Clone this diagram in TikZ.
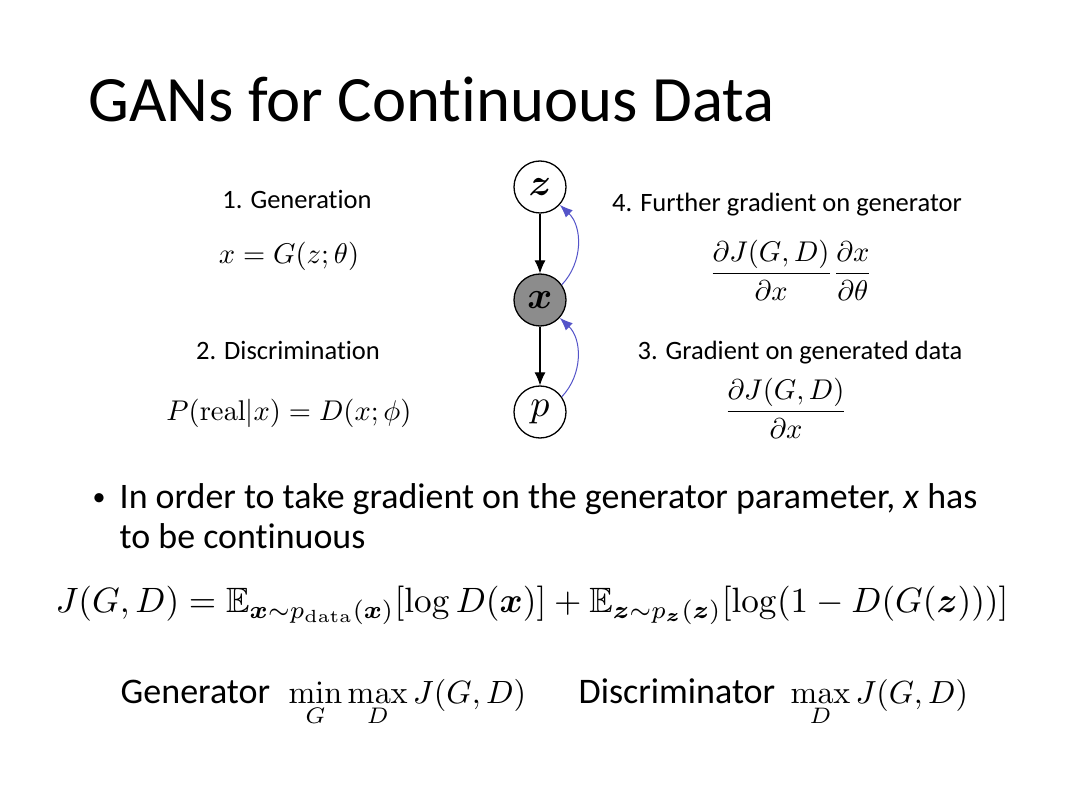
\documentclass[tikz,border=0pt]{standalone}
\usepackage{amsmath,amssymb,bm}
\usepackage[no-math]{fontspec}
\setmainfont{Carlito}[Ligatures=NoCommon]
\usetikzlibrary{arrows.meta}
\definecolor{arcblue}{RGB}{70,70,225}
\definecolor{nodegray}{RGB}{140,140,140}
\tikzset{
  lbl/.style={inner sep=0pt, anchor=base, scale=2.65},
  mth/.style={inner sep=0pt, scale=2.85},
  gnode/.style={circle, draw=black, line width=1.3pt, minimum size=52pt, inner sep=0pt, fill=white},
  fwd/.style={-{Latex[length=13pt,width=11pt]}, line width=1.1pt},
  back/.style={-{Latex[length=13pt,width=10pt]}, draw=arcblue!75!gray, line width=1pt}
}
\begin{document}
\begin{tikzpicture}[x=1pt,y=-1pt]
\useasboundingbox (0,0) rectangle (1080,810);
\fill[white] (0,0) rectangle (1080,810);
% title
\node[inner sep=0pt, anchor=base west, scale=6.47] (title) at (87,122) {GANs for Continuous Data};
% graph
\node[gnode] (z) at (540,187) {\scalebox{3.8}{$\bm{z}$}};
\node[gnode, fill=nodegray] (x) at (540,300) {\scalebox{3.8}{$\bm{x}$}};
\node[gnode] (p) at (540,412) {\scalebox{3.8}{$p$}};
\draw[fwd] (z) -- (x);
\draw[fwd] (x) -- (p);
\draw[back] (x.35) to[bend right=45] (z.-42);
\draw[back] (p.35) to[bend right=45] (x.-42);
% left
\node[lbl] (l1) at (297,209) {1. Generation};
\node[mth] (m1) at (289,256) {$x = G(z;\theta)$};
\node[lbl] (l2) at (288,360) {2. Discrimination};
\node[mth] (m2) at (289,413) {$P(\mathrm{real}|x) = D(x;\phi)$};
% right
\node[lbl] (r4) at (787,212) {4. Further gradient on generator};
\node[mth] (f4) at (791,270) {$\dfrac{\partial J(G,D)}{\partial x}\dfrac{\partial x}{\partial \theta}$};
\node[lbl] (r3) at (800,360) {3. Gradient on generated data};
\node[mth] (f3) at (786,408) {$\dfrac{\partial J(G,D)}{\partial x}$};
% bullet
\node[inner sep=0pt, anchor=base west, scale=2.6] (b) at (92,505) {\textbullet};
\node[inner sep=0pt, anchor=base west, scale=3.59] (t1) at (119,508) {In order to take gradient on the generator parameter, \textit{x} has};
\node[inner sep=0pt, anchor=base west, scale=3.59] (t2) at (119,548) {to be continuous};
% main formula
\node[inner sep=0pt, anchor=base, scale=3.52] (J) at (532,612) {$J(G,D) = \mathbb{E}_{\bm{x}\sim p_{\mathrm{data}}(\bm{x})}[\log D(\bm{x})] + \mathbb{E}_{\bm{z}\sim p_{\bm{z}}(\bm{z})}[\log(1-D(G(\bm{z})))]$};
% bottom
\node[inner sep=0pt, anchor=base west, scale=3.6] (g) at (120,703) {Generator};
\node[inner sep=0pt, anchor=base west, scale=3.22] (gm) at (288,703) {$\min\limits_G \max\limits_D J(G,D)$};
\node[inner sep=0pt, anchor=base west, scale=3.6] (d) at (578,703) {Discriminator};
\node[inner sep=0pt, anchor=base west, scale=3.2] (dm) at (790,703) {$\max\limits_D J(G,D)$};
\end{tikzpicture}
\end{document}
